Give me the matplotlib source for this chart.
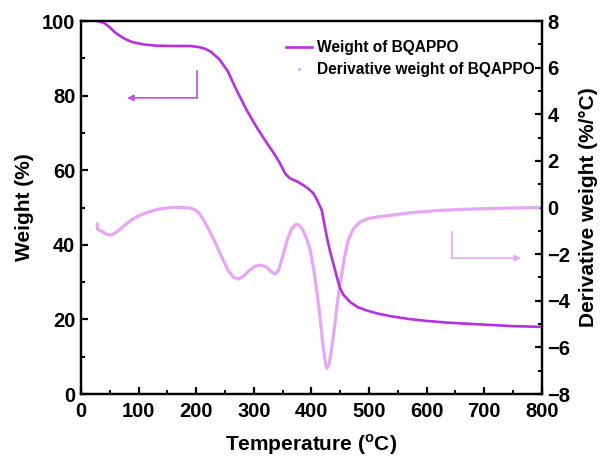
import matplotlib
matplotlib.use('Agg')
import matplotlib.pyplot as plt
from matplotlib.lines import Line2D
from matplotlib.ticker import MultipleLocator

plt.rcParams['font.family'] = ['Liberation Sans', 'DejaVu Sans']
plt.rcParams['font.weight'] = 'bold'
plt.rcParams['mathtext.fontset'] = 'custom'
plt.rcParams['mathtext.rm'] = 'Liberation Sans:bold'
plt.rcParams['mathtext.bf'] = 'Liberation Sans:bold'

# TGA curve of BQAPPO
temp_w = [28, 40, 50, 60, 75, 90, 110, 130, 160, 190, 205, 215, 225, 240, 255,
          270, 288, 305, 323, 335, 345, 355, 363, 375, 386, 395, 403, 410, 418,
          422, 427, 432, 438, 444, 449, 455, 467, 480, 496, 514, 540, 570, 600,
          640, 700, 750, 800]
weight = [100, 99.5, 98.3, 96.8, 95.3, 94.3, 93.7, 93.4, 93.3, 93.3, 93.0, 92.6,
          91.8, 89.8, 86.5, 81.5, 76.0, 71.5, 67.2, 64.5, 62.0, 59.0, 57.8, 57.0,
          56.0, 55.0, 53.9, 52.0, 49.3, 46.0, 42.0, 38.5, 35.0, 31.5, 28.7, 26.7,
          24.7, 23.3, 22.4, 21.6, 20.8, 20.1, 19.6, 19.1, 18.6, 18.2, 18.0]

# DTG curve
temp_d = [28, 29, 35, 45, 52, 60, 70, 87, 100, 116, 135, 156, 175, 191, 200, 205,
          212, 220, 231, 243, 255, 265, 273, 282, 292, 302, 312, 322, 330, 337,
          343, 350, 358, 366, 373, 378, 385, 392, 398, 405, 410, 415, 420, 424,
          427, 431, 436, 441, 446, 450, 457, 464, 472, 484, 500, 520, 542, 570,
          588, 620, 660, 700, 750, 795]
deriv = [-0.7, -0.95, -1.0, -1.15, -1.18, -1.08, -0.88, -0.54, -0.36, -0.2, -0.07,
         0.0, 0.0, -0.03, -0.12, -0.25, -0.5, -0.85, -1.4, -2.05, -2.68, -3.0,
         -3.07, -2.95, -2.7, -2.52, -2.47, -2.55, -2.75, -2.85, -2.7, -2.1, -1.4,
         -0.9, -0.72, -0.75, -0.95, -1.35, -1.82, -2.8, -3.7, -4.7, -5.9, -6.6,
         -6.9, -6.7, -5.9, -4.96, -3.9, -3.25, -2.2, -1.4, -0.95, -0.62, -0.47,
         -0.38, -0.32, -0.23, -0.19, -0.13, -0.08, -0.05, -0.02, 0.0]

c_weight = '#b62fe0'
c_deriv = '#e8a6f6'

fig = plt.figure(figsize=(6, 4.61), dpi=100)
ax = fig.add_axes([0.135, 0.1453, 0.768, 0.8091])
ax2 = ax.twinx()

ax2.plot(temp_d, deriv, color=c_deriv, lw=2.3, solid_capstyle='round')
ax.plot(temp_w, weight, color=c_weight, lw=1.9)
ax.set_zorder(ax2.get_zorder() + 1)
ax.patch.set_visible(False)

ax.set_xlim(0, 800)
ax.set_ylim(0, 100)
ax2.set_ylim(-8, 8)
ax.xaxis.set_major_locator(MultipleLocator(100))
ax.xaxis.set_minor_locator(MultipleLocator(50))
ax.yaxis.set_major_locator(MultipleLocator(20))
ax.yaxis.set_minor_locator(MultipleLocator(10))
ax2.yaxis.set_major_locator(MultipleLocator(2))
ax2.yaxis.set_minor_locator(MultipleLocator(1))

for a in (ax, ax2):
    for s in a.spines.values():
        s.set_linewidth(1.6)
    a.tick_params(which='major', direction='in', length=5, width=1.6,
                  labelsize=14.5, pad=4)
    a.tick_params(which='minor', direction='in', length=3, width=1.4)
ax.tick_params(top=False, which='both')
ax.tick_params(axis='x', pad=6)

ax.set_xlabel(r'Temperature ($^{\mathbf{o}}$C)', fontsize=15, fontweight='bold',
              labelpad=8)
ax.set_ylabel('Weight (%)', fontsize=15, fontweight='bold', labelpad=6)
ax2.set_ylabel('Derivative weight (%/°C)', fontsize=15, fontweight='bold',
               labelpad=6)

# arrows pointing to each axis
ax.plot([201, 201], [86.6, 79.4], color='#c24ee6', lw=1.2)
ax.annotate('', xy=(80, 79.4), xytext=(201.5, 79.4),
            arrowprops=dict(arrowstyle='-|>', color='#c24ee6', lw=1.2,
                            mutation_scale=9, shrinkA=0, shrinkB=0))
ax2.plot([644, 644], [-1.05, -2.17], color=c_deriv, lw=1.2)
ax2.annotate('', xy=(764, -2.17), xytext=(643.5, -2.17),
             arrowprops=dict(arrowstyle='-|>', color=c_deriv, lw=1.2,
                             mutation_scale=9, shrinkA=0, shrinkB=0))

handles = [Line2D([], [], color=c_weight, lw=1.9),
           Line2D([], [], color=c_deriv, ls='none', marker='o', ms=1.5)]
ax.legend(handles, ['Weight of BQAPPO', 'Derivative weight of BQAPPO'],
          loc='upper left', bbox_to_anchor=(0.463, 0.93),
          bbox_transform=fig.transFigure, frameon=False, borderpad=0,
          handlelength=1.7, handletextpad=0.3, labelspacing=0.45,
          prop={'size': 11.2, 'weight': 'bold'})

fig.savefig('out.png', dpi=100)
